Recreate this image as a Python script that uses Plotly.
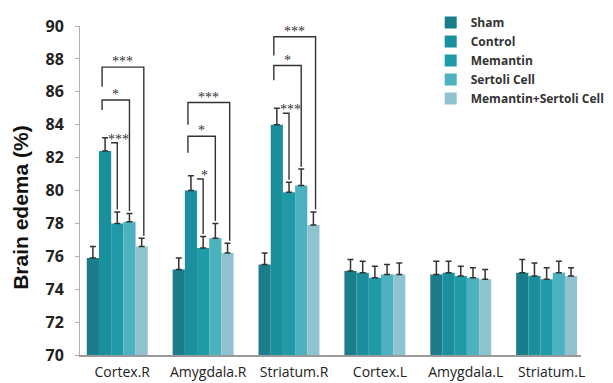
import plotly.graph_objects as go

# Regions and treatment groups
regions = ["Cortex.R", "Amygdala.R", "Striatum.R", "Cortex.L", "Amygdala.L", "Striatum.L"]
groups = ["Sham", "Control", "Memantin", "Sertoli Cell", "Memantin+Sertoli Cell"]

# Mean brain water content (%) per group, ordered as regions
sham = [75.9, 75.2, 75.5, 75.1, 74.9, 75.0]
control = [82.4, 80.0, 84.0, 75.0, 75.0, 74.8]
memantin = [78.0, 76.5, 79.9, 74.7, 74.8, 74.6]
sertoli = [78.1, 77.1, 80.3, 74.9, 74.7, 75.0]
mem_sertoli = [76.6, 76.2, 77.9, 74.9, 74.6, 74.8]

# Standard error (upper bar only)
sham_se = [0.7, 0.7, 0.7, 0.7, 0.8, 0.8]
control_se = [0.8, 0.9, 1.0, 0.7, 0.7, 0.8]
memantin_se = [0.7, 0.7, 0.6, 0.7, 0.6, 0.7]
sertoli_se = [0.5, 0.9, 1.0, 0.6, 0.6, 0.7]
mem_sertoli_se = [0.5, 0.6, 0.8, 0.7, 0.6, 0.5]

colors = ["#1b7d8a", "#1a8f9d", "#1f9ba7", "#4cb2c0", "#8ec3cf"]

# Significance brackets: (region index, target group index, bracket height, left drop, label)
brackets = [
    (0, 2, 82.9, None, "***"), (0, 3, 85.5, 84.9, "*"), (0, 4, 87.5, 86.3, "***"),
    (1, 2, 80.7, None, "*"), (1, 3, 83.3, 82.3, "*"), (1, 4, 85.35, 84.0, "***"),
    (2, 2, 84.7, None, "***"), (2, 3, 87.6, 86.7, "*"), (2, 4, 89.35, 88.2, "***"),
]

series = [sham, control, memantin, sertoli, mem_sertoli]
errors = [sham_se, control_se, memantin_se, sertoli_se, mem_sertoli_se]

BARGAP = 0.29
bar_w = (1 - BARGAP) / len(groups)


def bar_x(cat, gi):
    return cat - (1 - BARGAP) / 2 + bar_w * (gi + 0.5)


fig = go.Figure()
xs = list(range(len(regions)))
for name, vals, err, col in zip(groups, series, errors, colors):
    fig.add_trace(go.Bar(
        x=xs, y=vals, name=name,
        marker=dict(color=col, line=dict(width=0)),
        error_y=dict(type="data", array=err, arrayminus=[0] * len(err), symmetric=False,
                     color="#333333", thickness=1.5, width=3),
    ))

line = dict(color="#333333", width=1.4)
star_font = dict(size=14, color="#333", family="Arial Black")
for cat, gi, h, drop, label in brackets:
    xl = bar_x(cat, 1) - 0.035
    xr = bar_x(cat, gi) + (0.025 if gi == 4 else 0.0)
    top = series[gi][cat] + errors[gi][cat] + 0.15
    if drop is None:
        xl = bar_x(cat, 1) + 0.07
        fig.add_shape(type="path", path=f"M {xl} {h} L {xr} {h} L {xr} {top}", line=line)
        fig.add_annotation(x=bar_x(cat, 1) + 0.16, y=h - 0.35, text=label, showarrow=False,
                           yanchor="bottom", xanchor="center", font=star_font)
    else:
        fig.add_shape(type="path",
                      path=f"M {xl} {drop} L {xl} {h} L {xr} {h} L {xr} {top}", line=line)
        fig.add_annotation(x=(xl + xr) / 2, y=h - 0.25, text=label, showarrow=False,
                           yanchor="bottom", xanchor="center", font=star_font)

# Y-axis title, set slightly below the axis midpoint
fig.add_annotation(xref="paper", yref="paper", x=-0.118, y=0.45, textangle=-90,
                   text="<b>Brain edema (%)</b>", showarrow=False,
                   xanchor="center", yanchor="middle",
                   font=dict(size=21, family="Arial", color="#111"))

fig.update_layout(
    width=613, height=383,
    margin=dict(l=80, r=3, t=26, b=28),
    paper_bgcolor="white", plot_bgcolor="white",
    barmode="group", bargap=BARGAP, bargroupgap=0,
    showlegend=True,
    legend=dict(x=0.70, y=1.055, xanchor="left", yanchor="top",
                font=dict(family="Open Sans", size=12, color="#333", weight="bold"),
                bgcolor="rgba(0,0,0,0)", itemwidth=30, tracegroupgap=0),
    font=dict(family="Open Sans", color="#222"),
)
fig.update_xaxes(
    range=[-0.434, 5.4], tickvals=xs, ticktext=regions,
    showline=True, linecolor="#9a9a9a", linewidth=1.5, ticks="",
    ticklabelshift=5, ticklabelstandoff=3,
    tickfont=dict(size=14, color="#222"), showgrid=False, zeroline=False,
)
fig.update_yaxes(
    range=[70, 90], dtick=2, showgrid=False, zeroline=False,
    showline=True, linecolor="#b0b0b0", linewidth=1, ticks="outside", ticklen=4,
    tickcolor="#b0b0b0", ticklabelstandoff=8,
    tickfont=dict(size=16, color="#222", family="Open Sans", weight="bold"),
)

fig.write_html("out.html")
